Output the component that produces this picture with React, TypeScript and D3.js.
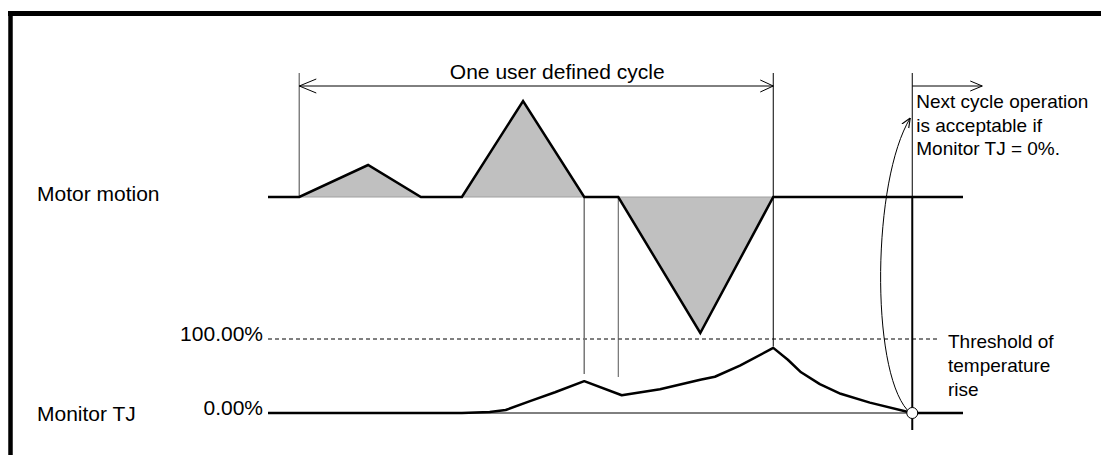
import React from "react";
import * as d3 from "d3";

// ---- data (time in arbitrary units, 0..100 across the plotted window) ----
const motorTime = [0, 4.5, 14.4, 22.0, 27.9, 36.7, 45.5, 50.4, 62.2, 72.7, 100];
const motorSpeed = [0, 0, 800, 0, 0, 2400, 0, 0, -3400, 0, 0];

const tjTime = [0, 27.9, 31.9, 34.2, 37.7, 41.3, 45.5, 50.9, 56.4, 62.2, 64.3, 67.9, 72.7, 74.8, 76.7, 79.4, 82.4, 86.6, 92.7, 100];
const tjValue = [0, 0, 1.4, 4, 16, 28, 43, 24, 32, 45, 49, 64, 88, 72, 55, 39, 26, 14, 0, 0];

const tjTickValues = [100, 0];
const tjTickLabels = ["100.00%", "0.00%"];

const cycleStart = 4.5;
const cycleEnd = 72.7;
const nextCycle = 92.7;
const guideTimes = [45.5, 50.4];

const cycleLabel = "One user defined cycle";
const rowLabels = ["Motor motion", "Monitor TJ"];
const nextNote = ["Next cycle operation", "is acceptable if", "Monitor TJ = 0%."];
const thresholdNote = ["Threshold of", "temperature", "rise"];

const W = 1101;
const H = 455;
const FONT = "'Liberation Sans', Arial, Helvetica, sans-serif";

export default function App() {
  const x = d3.scaleLinear().domain([0, 100]).range([268, 963]);
  const yM = d3.scaleLinear().domain([0, 1000]).range([197, 157]);
  const yT = d3.scaleLinear().domain([0, 100]).range([413, 339]);

  const motorPts = motorTime.map((t, i) => [t, motorSpeed[i]] as [number, number]);
  const tjPts = tjTime.map((t, i) => [t, tjValue[i]] as [number, number]);

  const motorLine = d3.line<[number, number]>().x((d) => x(d[0])).y((d) => yM(d[1]))(motorPts) || "";
  const motorArea =
    d3
      .area<[number, number]>()
      .x((d) => x(d[0]))
      .y0(yM(0))
      .y1((d) => yM(d[1]))(motorPts.filter((d) => d[0] >= cycleStart && d[0] <= cycleEnd)) || "";
  const tjLine = d3.line<[number, number]>().x((d) => x(d[0])).y((d) => yT(d[1]))(tjPts) || "";

  const arrowY = 86;
  const topY = 73;
  const xs = x(cycleStart);
  const xe = x(cycleEnd);
  const xn = x(nextCycle);

  // curved arrow from zero point up to the note
  const cp = d3.path();
  cp.moveTo(xn - 5, yT(0) - 3);
  cp.bezierCurveTo(xn - 42, yT(0) - 45, xn - 40, 180, xn - 2, 118);
  const curvePath = cp.toString();

  const head = (px: number, py: number, dir: number, len: number, half: number) =>
    `M${px + dir * len},${py - half} L${px},${py} L${px + dir * len},${py + half}`;

  return (
    <svg
      width={W}
      height={H}
      style={{ position: "absolute", left: 0, top: 0, background: "#fff" }}
      fontFamily={FONT}
    >
      <defs>
        <marker id="openhead" viewBox="0 0 10 10" refX="9.5" refY="5" markerWidth="10" markerHeight="10" markerUnits="userSpaceOnUse" orient="auto">
          <path d="M0,1 L9.5,5 L0,9" fill="none" stroke="#000" strokeWidth="1.1" />
        </marker>
      </defs>

      {/* frame */}
      <line x1={8} x2={W} y1={13.5} y2={13.5} stroke="#000" strokeWidth={5} />
      <line x1={10.5} x2={10.5} y1={11} y2={H} stroke="#000" strokeWidth={4.5} />

      {/* row labels */}
      <text x={37} y={yM(0) + 4} fontSize={21}>{rowLabels[0]}</text>
      <text x={37} y={yT(0) + 8} fontSize={21}>{rowLabels[1]}</text>

      {/* TJ tick labels */}
      {tjTickValues.map((v, i) => (
        <text key={v} x={263} y={yT(v) + 2} fontSize={21} textAnchor="end">{tjTickLabels[i]}</text>
      ))}

      {/* threshold dashed line */}
      <line x1={x(0)} x2={938} y1={yT(100)} y2={yT(100)} stroke="#000" strokeWidth={1} strokeDasharray="4,3" />

      {/* motor fill */}
      <path d={motorArea} fill="#c0c0c0" stroke="none" />
      <line x1={xs} x2={xe} y1={yM(0)} y2={yM(0)} stroke="#a0a0a0" strokeWidth={1} />

      {/* vertical guide lines */}
      <line x1={xs} x2={xs} y1={topY} y2={yM(0)} stroke="#808080" strokeWidth={1.5} />
      <line x1={xe} x2={xe} y1={topY} y2={yT(90)} stroke="#000" strokeWidth={1} />
      <line x1={x(guideTimes[0])} x2={x(guideTimes[0])} y1={yM(0) + 1} y2={374} stroke="#777" strokeWidth={1.5} />
      <line x1={x(guideTimes[1])} x2={x(guideTimes[1])} y1={yM(0) + 1} y2={377} stroke="#555" strokeWidth={1} />
      <line x1={xn} x2={xn} y1={topY} y2={yM(0)} stroke="#000" strokeWidth={1} />
      <line x1={xn} x2={xn} y1={yM(0)} y2={430} stroke="#000" strokeWidth={2} />

      {/* cycle dimension arrow */}
      <line x1={xs} x2={xe} y1={arrowY} y2={arrowY} stroke="#000" strokeWidth={1} />
      <path d={head(xs, arrowY, 1, 17, 7)} fill="none" stroke="#000" strokeWidth={1} />
      <path d={head(xe, arrowY, -1, 13, 6)} fill="none" stroke="#000" strokeWidth={1} />
      <text x={(xs + xe) / 2 + 21} y={79} fontSize={21} textAnchor="middle">{cycleLabel}</text>

      {/* next cycle arrow */}
      <line x1={xn} x2={xn + 70} y1={arrowY} y2={arrowY} stroke="#000" strokeWidth={1} />
      <path d={head(xn + 70, arrowY, -1, 12, 5)} fill="none" stroke="#000" strokeWidth={1} />
      {nextNote.map((s, i) => (
        <text key={s} x={xn + 4} y={108 + i * 23.5} fontSize={19}>{s}</text>
      ))}

      {/* threshold note */}
      {thresholdNote.map((s, i) => (
        <text key={s} x={948} y={348 + i * 24} fontSize={19}>{s}</text>
      ))}

      {/* zero baseline */}
      <line x1={x(0)} x2={xn} y1={yT(0)} y2={yT(0)} stroke="#000" strokeWidth={1} />

      {/* curves */}
      <path d={motorLine} fill="none" stroke="#000" strokeWidth={2.5} strokeLinejoin="miter" />
      <path d={tjLine} fill="none" stroke="#000" strokeWidth={2.5} strokeLinejoin="round" />

      {/* curved arrow */}
      <path d={curvePath} fill="none" stroke="#000" strokeWidth={1} markerEnd="url(#openhead)" />

      {/* zero point */}
      <circle cx={xn} cy={yT(0)} r={5.5} fill="#fff" stroke="#000" strokeWidth={1} />
    </svg>
  );
}
